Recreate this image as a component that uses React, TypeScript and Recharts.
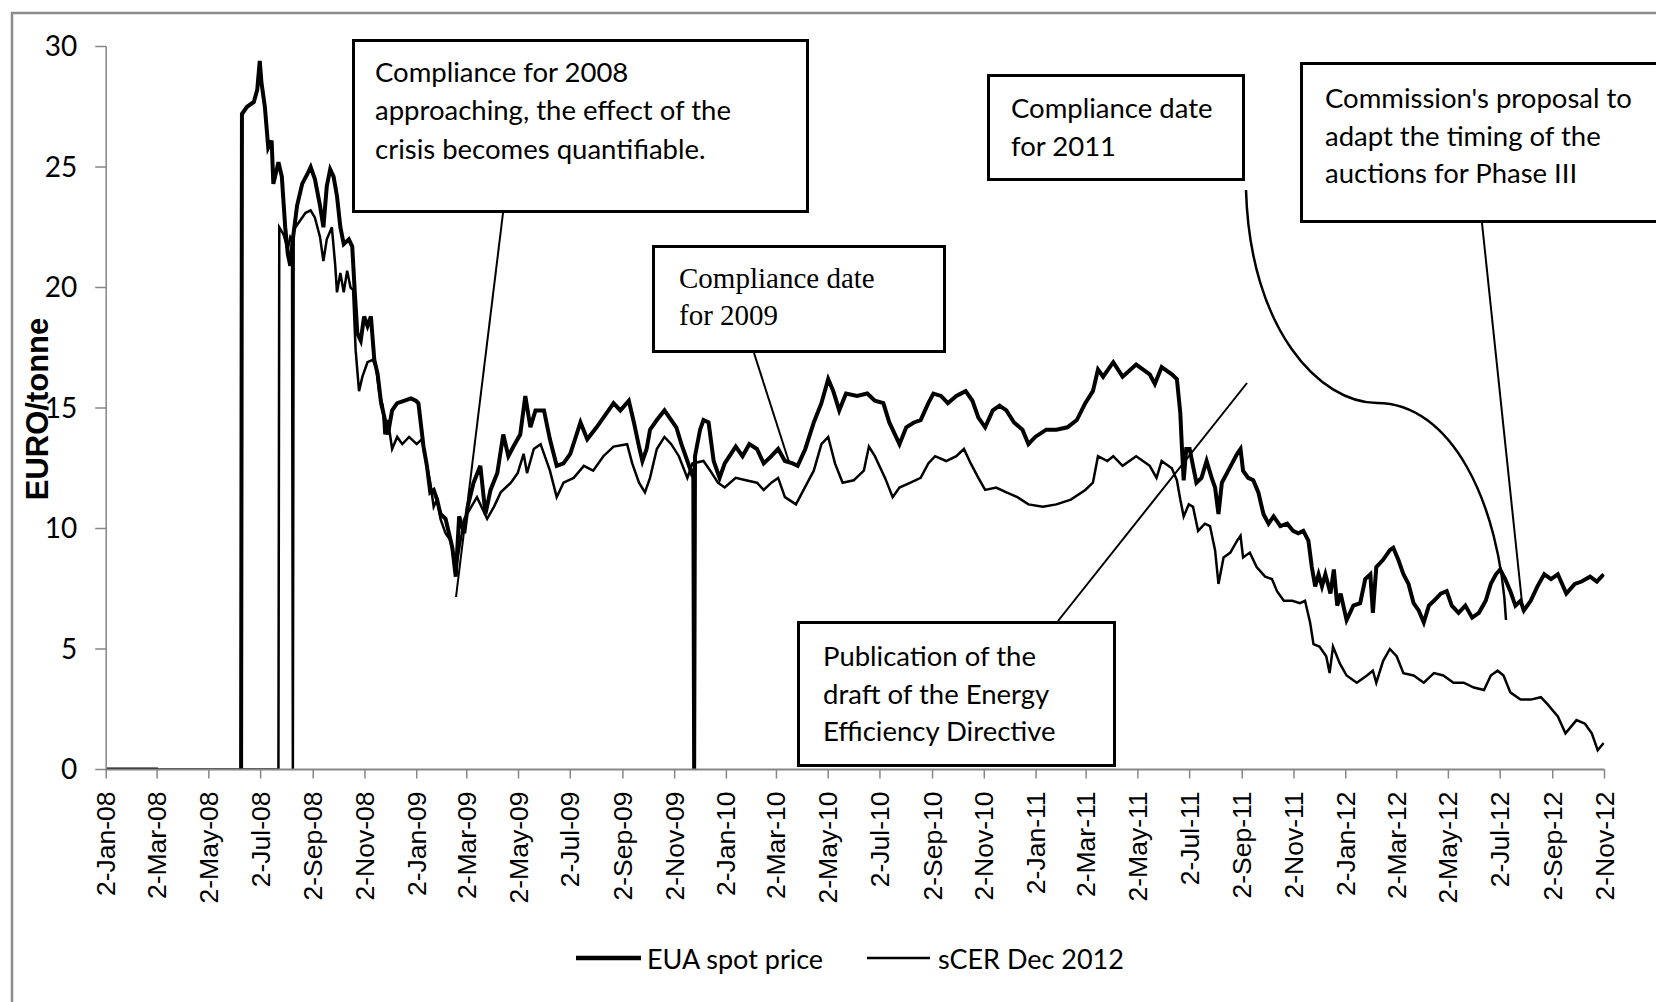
import React from 'react';
import { LineChart, Line, XAxis, YAxis } from 'recharts';

type Row = [string, number | null];

// EUA spot price (date, EURO/tonne)
const eua2008: Row[] = [
  ['2008-01-02', 0], ['2008-03-03', 0], ['2008-03-04', null], ['2008-06-09', 0],
  ['2008-06-10', 27.2], ['2008-06-16', 27.5], ['2008-06-24', 27.7], ['2008-06-28', 28.2],
  ['2008-07-01', 29.4], ['2008-07-03', 28.5], ['2008-07-07', 27.5], ['2008-07-11', 25.8],
  ['2008-07-15', 26.1], ['2008-07-17', 24.3], ['2008-07-23', 25.2], ['2008-07-27', 24.6],
  ['2008-07-31', 22.5], ['2008-08-03', 21.4], ['2008-08-06', 20.9], ['2008-08-09', 22.0],
  ['2008-08-14', 23.4], ['2008-08-20', 24.3], ['2008-08-26', 24.7], ['2008-08-30', 25.0],
  ['2008-09-04', 24.5], ['2008-09-10', 23.4], ['2008-09-14', 22.5], ['2008-09-18', 24.2],
  ['2008-09-22', 24.9], ['2008-09-26', 24.6], ['2008-09-30', 23.8], ['2008-10-04', 22.5],
  ['2008-10-08', 21.8], ['2008-10-14', 22.0], ['2008-10-18', 21.7], ['2008-10-21', 19.8],
  ['2008-10-24', 18.1], ['2008-10-28', 17.8], ['2008-11-01', 18.8], ['2008-11-05', 18.4],
  ['2008-11-09', 18.8], ['2008-11-13', 17.0], ['2008-11-17', 16.4], ['2008-11-21', 15.2],
  ['2008-11-25', 14.6], ['2008-11-29', 13.9], ['2008-12-04', 14.9], ['2008-12-10', 15.2],
  ['2008-12-18', 15.3], ['2008-12-26', 15.4],
];
const eua2009: Row[] = [
  ['2009-01-01', 15.3], ['2009-01-04', 15.2], ['2009-01-10', 13.4], ['2009-01-14', 12.6],
  ['2009-01-18', 11.5], ['2009-01-22', 11.6], ['2009-01-26', 11.2], ['2009-01-30', 10.6],
  ['2009-02-05', 10.4], ['2009-02-09', 9.8], ['2009-02-13', 9.2], ['2009-02-17', 8.0],
  ['2009-02-21', 10.5], ['2009-02-27', 9.8], ['2009-03-03', 10.9], ['2009-03-10', 11.9],
  ['2009-03-18', 12.6], ['2009-03-24', 10.6], ['2009-03-30', 11.6], ['2009-04-07', 12.3],
  ['2009-04-14', 13.9], ['2009-04-20', 13.0], ['2009-04-26', 13.4], ['2009-05-04', 13.9],
  ['2009-05-10', 15.5], ['2009-05-16', 14.2], ['2009-05-22', 14.9], ['2009-06-01', 14.9],
  ['2009-06-08', 13.7], ['2009-06-16', 12.6], ['2009-06-24', 12.7], ['2009-07-02', 13.1],
  ['2009-07-14', 14.4], ['2009-07-22', 13.7], ['2009-08-02', 14.2], ['2009-08-14', 14.8],
  ['2009-08-22', 15.2], ['2009-08-30', 14.9], ['2009-09-09', 15.3], ['2009-09-15', 14.4],
  ['2009-09-21', 13.4], ['2009-09-25', 12.8], ['2009-09-30', 13.3], ['2009-10-04', 14.1],
  ['2009-10-12', 14.5], ['2009-10-21', 14.9], ['2009-10-29', 14.5], ['2009-11-04', 14.2],
  ['2009-11-10', 13.5], ['2009-11-17', 12.8], ['2009-11-22', 12.3], ['2009-11-24', 12.4],
  ['2009-11-25', 0], ['2009-11-26', 13.0], ['2009-12-02', 14.1], ['2009-12-06', 14.5],
  ['2009-12-12', 14.4], ['2009-12-18', 12.8], ['2009-12-25', 12.1], ['2009-12-31', 12.7],
];
const eua2010: Row[] = [
  ['2010-01-13', 13.4], ['2010-01-21', 13.0], ['2010-01-29', 13.5], ['2010-02-07', 13.3],
  ['2010-02-15', 12.7], ['2010-02-24', 13.0], ['2010-03-04', 13.3], ['2010-03-12', 12.8],
  ['2010-03-21', 12.7], ['2010-03-27', 12.6], ['2010-04-05', 13.3], ['2010-04-15', 14.4],
  ['2010-04-24', 15.2], ['2010-05-02', 16.2], ['2010-05-08', 15.7], ['2010-05-15', 14.9],
  ['2010-05-23', 15.6], ['2010-06-05', 15.5], ['2010-06-17', 15.6], ['2010-06-26', 15.3],
  ['2010-07-06', 15.2], ['2010-07-13', 14.4], ['2010-07-21', 13.8], ['2010-07-25', 13.5],
  ['2010-08-02', 14.2], ['2010-08-11', 14.4], ['2010-08-19', 14.5], ['2010-08-28', 15.2],
  ['2010-09-03', 15.6], ['2010-09-12', 15.5], ['2010-09-20', 15.2], ['2010-09-30', 15.5],
  ['2010-10-11', 15.7], ['2010-10-19', 15.3], ['2010-10-26', 14.6], ['2010-11-03', 14.2],
  ['2010-11-12', 14.9], ['2010-11-20', 15.1], ['2010-11-28', 14.9], ['2010-12-07', 14.4],
  ['2010-12-17', 14.1], ['2010-12-24', 13.5],
];
const eua2011: Row[] = [
  ['2011-01-01', 13.8], ['2011-01-14', 14.1], ['2011-01-26', 14.1], ['2011-02-08', 14.2],
  ['2011-02-19', 14.5], ['2011-03-01', 15.2], ['2011-03-10', 15.7], ['2011-03-16', 16.6],
  ['2011-03-22', 16.3], ['2011-04-03', 16.9], ['2011-04-14', 16.3], ['2011-04-30', 16.8],
  ['2011-05-16', 16.4], ['2011-05-22', 16.0], ['2011-05-30', 16.7], ['2011-06-11', 16.4],
  ['2011-06-17', 16.2], ['2011-06-21', 14.8], ['2011-06-23', 13.3], ['2011-06-25', 12.0],
  ['2011-06-28', 13.3], ['2011-07-02', 13.3], ['2011-07-06', 12.6], ['2011-07-10', 11.9],
  ['2011-07-16', 12.1], ['2011-07-22', 12.8], ['2011-07-28', 12.1], ['2011-08-01', 11.7],
  ['2011-08-05', 10.6], ['2011-08-09', 11.9], ['2011-08-15', 12.3], ['2011-08-21', 12.7],
  ['2011-08-27', 13.1], ['2011-08-31', 13.3], ['2011-09-03', 12.4], ['2011-09-09', 12.1],
  ['2011-09-15', 12.0], ['2011-09-21', 11.5], ['2011-09-27', 10.6], ['2011-10-03', 10.2],
  ['2011-10-09', 10.5], ['2011-10-17', 10.1], ['2011-10-25', 10.2], ['2011-11-01', 9.9],
  ['2011-11-07', 9.8], ['2011-11-13', 9.9], ['2011-11-19', 9.5], ['2011-11-23', 8.4],
  ['2011-11-27', 7.6], ['2011-12-01', 8.1], ['2011-12-05', 7.6], ['2011-12-09', 8.1],
  ['2011-12-15', 7.3], ['2011-12-19', 8.3], ['2011-12-23', 6.8], ['2011-12-27', 7.3],
];
const eua2012: Row[] = [
  ['2012-01-03', 6.2], ['2012-01-11', 6.8], ['2012-01-19', 6.9], ['2012-01-25', 7.9],
  ['2012-01-31', 8.1], ['2012-02-03', 6.5], ['2012-02-07', 8.4], ['2012-02-15', 8.7],
  ['2012-02-23', 9.1], ['2012-02-27', 9.2], ['2012-03-04', 8.7], ['2012-03-10', 8.1],
  ['2012-03-16', 7.7], ['2012-03-22', 6.9], ['2012-03-28', 6.6], ['2012-04-03', 6.1],
  ['2012-04-09', 6.8], ['2012-04-15', 7.0], ['2012-04-23', 7.3], ['2012-04-30', 7.4],
  ['2012-05-06', 6.8], ['2012-05-14', 6.5], ['2012-05-22', 6.8], ['2012-05-30', 6.3],
  ['2012-06-07', 6.5], ['2012-06-15', 7.0], ['2012-06-21', 7.7], ['2012-06-27', 8.1],
  ['2012-07-02', 8.3], ['2012-07-08', 7.9], ['2012-07-14', 7.4], ['2012-07-20', 6.8],
  ['2012-07-26', 7.0], ['2012-07-30', 6.6], ['2012-08-07', 7.0], ['2012-08-15', 7.6],
  ['2012-08-23', 8.1], ['2012-08-31', 7.9], ['2012-09-08', 8.1], ['2012-09-18', 7.3],
  ['2012-09-28', 7.7], ['2012-10-06', 7.8], ['2012-10-16', 8.0], ['2012-10-24', 7.8],
  ['2012-11-01', 8.1],
];

// sCER Dec 2012
const scer2008: Row[] = [
  ['2008-01-02', 0], ['2008-07-23', 0], ['2008-07-24', 22.5], ['2008-07-29', 22.2],
  ['2008-08-03', 21.6], ['2008-08-06', 22.1], ['2008-08-08', 22.0], ['2008-08-09', 0],
  ['2008-08-10', 22.4], ['2008-08-18', 22.8], ['2008-08-24', 23.1], ['2008-08-30', 23.2],
  ['2008-09-04', 22.9], ['2008-09-10', 22.1], ['2008-09-14', 21.1], ['2008-09-18', 22.0],
  ['2008-09-24', 22.5], ['2008-09-28', 20.9], ['2008-09-30', 19.8], ['2008-10-04', 20.6],
  ['2008-10-08', 19.8], ['2008-10-12', 20.7], ['2008-10-16', 20.0], ['2008-10-19', 19.9],
  ['2008-10-22', 17.4], ['2008-10-26', 15.7], ['2008-10-30', 16.3], ['2008-11-05', 16.9],
  ['2008-11-11', 17.0], ['2008-11-15', 16.7], ['2008-11-19', 15.6], ['2008-11-23', 15.1],
  ['2008-11-25', 13.9], ['2008-11-29', 14.5], ['2008-12-04', 13.3], ['2008-12-10', 13.8],
  ['2008-12-16', 13.5], ['2008-12-24', 13.8],
];
const scer2009: Row[] = [
  ['2009-01-02', 13.5], ['2009-01-08', 13.7], ['2009-01-14', 12.6], ['2009-01-18', 11.9],
  ['2009-01-22', 10.9], ['2009-01-26', 11.2], ['2009-01-30', 10.4], ['2009-02-05', 9.8],
  ['2009-02-11', 9.5], ['2009-02-17', 8.3], ['2009-02-27', 10.4], ['2009-03-14', 11.3],
  ['2009-03-26', 10.4], ['2009-04-03', 10.9], ['2009-04-11', 11.5], ['2009-04-23', 11.9],
  ['2009-05-01', 12.3], ['2009-05-08', 13.1], ['2009-05-12', 12.3], ['2009-05-20', 13.3],
  ['2009-05-28', 13.5], ['2009-06-08', 12.4], ['2009-06-16', 11.3], ['2009-06-24', 11.9],
  ['2009-07-06', 12.1], ['2009-07-18', 12.6], ['2009-07-29', 12.4], ['2009-08-10', 13.0],
  ['2009-08-22', 13.4], ['2009-09-07', 13.5], ['2009-09-13', 12.7], ['2009-09-21', 11.9],
  ['2009-09-28', 11.5], ['2009-10-04', 12.1], ['2009-10-12', 13.3], ['2009-10-21', 13.8],
  ['2009-10-29', 13.5], ['2009-11-07', 13.0], ['2009-11-17', 12.1], ['2009-11-23', 12.7],
  ['2009-12-06', 12.8], ['2009-12-14', 12.4], ['2009-12-23', 11.9], ['2009-12-31', 11.7],
];
const scer2010: Row[] = [
  ['2010-01-13', 12.1], ['2010-01-25', 12.0], ['2010-02-07', 11.9], ['2010-02-15', 11.6],
  ['2010-02-24', 11.9], ['2010-03-04', 12.1], ['2010-03-12', 11.3], ['2010-03-25', 11.0],
  ['2010-04-03', 11.6], ['2010-04-15', 12.4], ['2010-04-24', 13.5], ['2010-05-02', 13.8],
  ['2010-05-10', 12.7], ['2010-05-19', 11.9], ['2010-06-01', 12.0], ['2010-06-13', 12.4],
  ['2010-06-19', 13.4], ['2010-06-26', 13.0], ['2010-07-08', 12.1], ['2010-07-17', 11.3],
  ['2010-07-25', 11.7], ['2010-08-07', 11.9], ['2010-08-19', 12.1], ['2010-08-28', 12.7],
  ['2010-09-05', 13.0], ['2010-09-18', 12.8], ['2010-09-30', 13.0], ['2010-10-09', 13.3],
  ['2010-10-17', 12.7], ['2010-10-26', 12.1], ['2010-11-03', 11.6], ['2010-11-16', 11.7],
  ['2010-11-28', 11.5], ['2010-12-11', 11.3], ['2010-12-24', 11.0],
];
const scer2011: Row[] = [
  ['2011-01-10', 10.9], ['2011-01-26', 11.0], ['2011-02-12', 11.2], ['2011-03-01', 11.6],
  ['2011-03-10', 11.9], ['2011-03-16', 13.0], ['2011-03-27', 12.8], ['2011-04-03', 13.0],
  ['2011-04-14', 12.6], ['2011-04-30', 13.0], ['2011-05-16', 12.6], ['2011-05-24', 12.1],
  ['2011-05-30', 12.8], ['2011-06-11', 12.5], ['2011-06-17', 12.0], ['2011-06-21', 11.2],
  ['2011-06-25', 10.5], ['2011-07-01', 11.0], ['2011-07-06', 10.9], ['2011-07-12', 9.9],
  ['2011-07-20', 10.2], ['2011-07-26', 10.1], ['2011-08-01', 9.1], ['2011-08-05', 7.7],
  ['2011-08-11', 8.8], ['2011-08-19', 9.0], ['2011-08-27', 9.5], ['2011-08-31', 9.7],
  ['2011-09-03', 8.8], ['2011-09-11', 9.0], ['2011-09-19', 8.4], ['2011-09-29', 8.0],
  ['2011-10-07', 7.9], ['2011-10-13', 7.4], ['2011-10-21', 7.0], ['2011-10-31', 7.0],
  ['2011-11-09', 6.9], ['2011-11-15', 7.0], ['2011-11-21', 6.1], ['2011-11-25', 5.2],
  ['2011-12-02', 5.1], ['2011-12-10', 4.7], ['2011-12-14', 4.0], ['2011-12-18', 5.1],
  ['2011-12-26', 4.4],
];
const scer2012: Row[] = [
  ['2012-01-03', 3.9], ['2012-01-15', 3.6], ['2012-01-27', 3.9], ['2012-02-03', 4.1],
  ['2012-02-07', 3.6], ['2012-02-15', 4.5], ['2012-02-23', 5.0], ['2012-03-02', 4.7],
  ['2012-03-10', 4.0], ['2012-03-22', 3.9], ['2012-04-03', 3.6], ['2012-04-15', 4.0],
  ['2012-04-26', 3.9], ['2012-05-08', 3.6], ['2012-05-20', 3.6], ['2012-06-01', 3.4],
  ['2012-06-13', 3.3], ['2012-06-21', 3.9], ['2012-06-29', 4.1], ['2012-07-06', 3.9],
  ['2012-07-14', 3.2], ['2012-07-26', 2.9], ['2012-08-07', 2.9], ['2012-08-19', 3.0],
  ['2012-08-27', 2.7], ['2012-09-08', 2.2], ['2012-09-17', 1.5], ['2012-09-30', 2.05],
  ['2012-10-10', 1.9], ['2012-10-18', 1.5], ['2012-10-25', 0.8], ['2012-11-01', 1.1],
];

const tickDates = [
  '2008-01-02', '2008-03-02', '2008-05-02', '2008-07-02', '2008-09-02', '2008-11-02',
  '2009-01-02', '2009-03-02', '2009-05-02', '2009-07-02', '2009-09-02', '2009-11-02',
  '2010-01-02', '2010-03-02', '2010-05-02', '2010-07-02', '2010-09-02', '2010-11-02',
  '2011-01-02', '2011-03-02', '2011-05-02', '2011-07-02', '2011-09-02', '2011-11-02',
  '2012-01-02', '2012-03-02', '2012-05-02', '2012-07-02', '2012-09-02', '2012-11-02',
];
const yTicks = [0, 5, 10, 15, 20, 25, 30];
const MONTHS = ['Jan', 'Feb', 'Mar', 'Apr', 'May', 'Jun', 'Jul', 'Aug', 'Sep', 'Oct', 'Nov', 'Dec'];

const BASE = Date.UTC(2008, 0, 2);
const DAY = 86400000;
const dayNo = (s: string) => {
  const [y, m, d] = s.split('-').map(Number);
  return (Date.UTC(y, m - 1, d) - BASE) / DAY;
};
const fmtTick = (t: number) => {
  const dt = new Date(BASE + t * DAY);
  return `${dt.getUTCDate()}-${MONTHS[dt.getUTCMonth()]}-${String(dt.getUTCFullYear()).slice(2)}`;
};
const toPoints = (rows: Row[]) => rows.map(([d, v]) => ({ t: dayNo(d), v }));

const euaData = toPoints([...eua2008, ...eua2009, ...eua2010, ...eua2011, ...eua2012]);
const scerData = toPoints([...scer2008, ...scer2009, ...scer2010, ...scer2011, ...scer2012]);

const W = 1656;
const H = 1002;
const AXIS = '#868686';
const CAL = "Lato, 'Open Sans', sans-serif";
const ARIAL = "'Liberation Sans', Arial, sans-serif";

const DateTick = (props: any) => {
  const { x, y, payload } = props;
  return (
    <text
      x={x}
      y={y}
      transform={`rotate(-90, ${x}, ${y})`}
      textAnchor="end"
      dominantBaseline="central"
      fontFamily={ARIAL}
      fontSize={26.5}
      fill="#000"
    >
      {fmtTick(payload.value)}
    </text>
  );
};

type Note = { x: number; y: number; w: number; h: number; tx: number; ty: number[]; lines: string[]; serif?: boolean };

const notes: Note[] = [
  { x: 352, y: 39, w: 457, h: 174, tx: 375, ty: [71, 109, 148],
    lines: ['Compliance for 2008', 'approaching, the effect of the', 'crisis becomes quantifiable.'] },
  { x: 652, y: 245, w: 294, h: 108, tx: 679, ty: [278, 315], serif: true,
    lines: ['Compliance date', 'for 2009'] },
  { x: 987, y: 74, w: 258, h: 107, tx: 1011, ty: [107, 145],
    lines: ['Compliance date', 'for 2011'] },
  { x: 1300, y: 62, w: 420, h: 161, tx: 1325, ty: [97, 135, 172],
    lines: ["Commission's proposal to", 'adapt the timing of the', 'auctions for Phase III'] },
  { x: 797, y: 621, w: 319, h: 146, tx: 823, ty: [655, 693, 730],
    lines: ['Publication of the', 'draft of the Energy', 'Efficiency Directive'] },
];

const App: React.FC = () => {
  return (
    <div style={{ position: 'relative', width: W, height: H, overflow: 'hidden', background: '#fff' }}>
      <style>{'body{margin:0;overflow:hidden;}'}</style>
      <div style={{ position: 'absolute', left: 0, top: 0 }}>
        <LineChart width={W} height={H} margin={{ top: 46.5, right: 51.5, left: 46.2, bottom: 82.5 }}>
          <XAxis
            type="number"
            dataKey="t"
            domain={[0, dayNo('2012-11-02')]}
            ticks={tickDates.map(dayNo)}
            interval={0}
            tick={<DateTick />}
            tickSize={9}
            tickMargin={13}
            height={150}
            axisLine={{ stroke: AXIS, strokeWidth: 2 }}
            tickLine={{ stroke: AXIS, strokeWidth: 1.5 }}
            allowDataOverflow
          />
          <YAxis
            type="number"
            domain={[0, 30]}
            ticks={yTicks}
            interval={0}
            width={60}
            tickSize={11}
            tickMargin={18}
            axisLine={{ stroke: AXIS, strokeWidth: 1.5 }}
            tickLine={{ stroke: AXIS, strokeWidth: 1.5 }}
            tick={{ fontFamily: CAL, fontSize: 28, fill: '#000' }}
            allowDataOverflow
          />
          <Line data={euaData} dataKey="v" name="EUA spot price" stroke="#000" strokeWidth={4}
            dot={false} activeDot={false} isAnimationActive={false} connectNulls={false} />
          <Line data={scerData} dataKey="v" name="sCER Dec 2012" stroke="#000" strokeWidth={2.5}
            dot={false} activeDot={false} isAnimationActive={false} connectNulls={false} />
        </LineChart>
      </div>
      <svg width={W} height={H} style={{ position: 'absolute', left: 0, top: 0, pointerEvents: 'none' }}>
        <path d="M12 1002 V13 H1656" fill="none" stroke="#8c8c8c" strokeWidth={2.5} />
        <text x={37} y={409} transform="rotate(-90, 37, 409)" textAnchor="middle" dominantBaseline="central"
          fontFamily={ARIAL} fontWeight="bold" fontSize={31} fill="#000">EURO/tonne</text>

        {/* leader lines */}
        <g stroke="#000" strokeWidth={2} fill="none">
          <line x1={503} y1={213} x2={456} y2={597} />
          <line x1={754} y1={353} x2={789} y2={462} />
          <path d="M1246 190 C1250 330, 1320 403, 1377 403 C1450 403, 1500 500, 1506 620" strokeWidth={2.5} />
          <line x1={1482} y1={223} x2={1523} y2={612} />
          <line x1={1058} y1={621} x2={1247} y2={383} />
        </g>

        {notes.map((n, i) => (
          <g key={i}>
            <rect x={n.x + 1.5} y={n.y + 1.5} width={n.w - 3} height={n.h - 3} fill="#fff" stroke="#000" strokeWidth={3} />
            {n.lines.map((l, j) => (
              <text key={j} x={n.tx} y={n.ty[j]} dominantBaseline="central"
                fontFamily={n.serif ? "'Liberation Serif', 'Times New Roman', serif" : CAL}
                fontSize={n.serif ? 29 : 27.5} fill="#000">{l}</text>
            ))}
          </g>
        ))}

        {/* legend */}
        <line x1={576} y1={958} x2={641} y2={958} stroke="#000" strokeWidth={4.5} />
        <text x={647} y={958} dominantBaseline="central" fontFamily={CAL} fontSize={27} fill="#000">EUA spot price</text>
        <line x1={867} y1={958} x2={930} y2={958} stroke="#000" strokeWidth={2.5} />
        <text x={938} y={958} dominantBaseline="central" fontFamily={CAL} fontSize={27} fill="#000">sCER Dec 2012</text>
      </svg>
    </div>
  );
};

export default App;
